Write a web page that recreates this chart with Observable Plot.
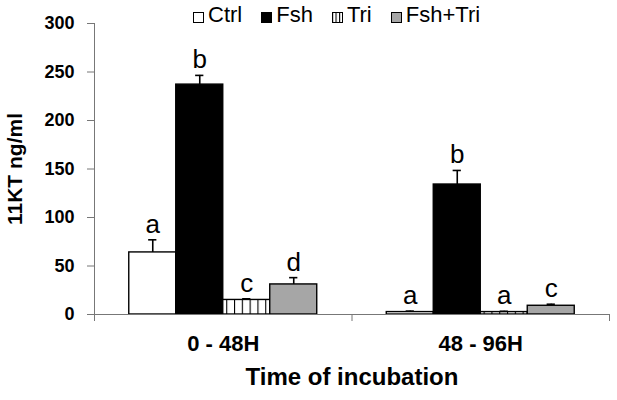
<!DOCTYPE html>
<html><head><meta charset="utf-8">
<script src="https://cdn.jsdelivr.net/npm/d3@7"></script>
<script src="https://cdn.jsdelivr.net/npm/@observablehq/plot@0.6"></script>
<style>
body{margin:0;background:#fff;font-family:"Liberation Sans",Arial,sans-serif;}
#chart{position:relative;width:617px;height:400px;}
#legend{position:absolute;left:193px;top:3px;display:flex;align-items:center;font-size:22px;color:#000;line-height:24px;}
.item{display:flex;align-items:center;margin-right:19px;}
.item svg{margin-right:4px;display:block;position:relative;top:2px;}
</style></head><body><div id="chart"><div id="legend"></div></div>
<script>
const groups = ["0 - 48H", "48 - 96H"];
const treatments = ["Ctrl", "Fsh", "Tri", "Fsh+Tri"];
const ctrlMean = [64, 2.5],   ctrlErr = [13, 1];
const fshMean = [237, 134],   fshErr = [9.5, 14.5];
const triMean = [15, 2.5],    triErr = [1.2, 0.8];
const fshTriMean = [31, 9],   fshTriErr = [7, 1.6];
const ctrlLetters = ["a", "a"], fshLetters = ["b", "b"], triLetters = ["c", "a"], fshTriLetters = ["d", "c"];
const yTicks = [0, 50, 100, 150, 200, 250, 300];
const yTitle = "11KT ng/ml";
const xTitle = "Time of incubation";

const meanBy = {"Ctrl": ctrlMean, "Fsh": fshMean, "Tri": triMean, "Fsh+Tri": fshTriMean};
const errBy = {"Ctrl": ctrlErr, "Fsh": fshErr, "Tri": triErr, "Fsh+Tri": fshTriErr};
const letterBy = {"Ctrl": ctrlLetters, "Fsh": fshLetters, "Tri": triLetters, "Fsh+Tri": fshTriLetters};
const fills = ["white", "black", "url(#triStripes)", "#a6a6a6"];

const rows = groups.flatMap((g, gi) => treatments.map((t, ti) => ({
  group: g, gi, treatment: t, ti,
  mean: meanBy[t][gi], err: errBy[t][gi], letter: letterBy[t][gi]
})));

const bw = 0.1825;       // bar width as a fraction of a category
const cap = 0.016;       // half error-bar cap width
const barLeft = d => d.gi + 0.5 + (d.ti - 2) * bw;
const barMid = d => barLeft(d) + bw / 2;
const errTop = d => d.mean + d.err;
const font = "Liberation Sans, Arial, sans-serif";

const plot = Plot.plot({
  width: 617, height: 400,
  marginTop: 23, marginBottom: 86, marginLeft: 94, marginRight: 8,
  style: {fontFamily: font, background: "white", color: "black"},
  x: {domain: [0, groups.length], axis: null},
  y: {domain: [0, 300], axis: null},
  color: {domain: treatments, range: fills},
  marks: [
    Plot.axisY({ticks: yTicks, tickSize: 7, tickPadding: 13, fontSize: 18, fontWeight: "bold", stroke: "#777", label: null}),
    Plot.axisX({ticks: d3.range(groups.length + 1), tickSize: 7, tickFormat: () => "", stroke: "#777", label: null}),
    Plot.axisX({ticks: groups.map((g, i) => i + 0.5), tickSize: 0, tickPadding: 21, tickFormat: v => groups[Math.floor(v)], fontSize: 22, fontWeight: "bold", label: null}),
    Plot.ruleX([0], {stroke: "#777"}),
    Plot.rect(rows, {x1: barLeft, x2: d => barLeft(d) + bw, y1: 0, y2: "mean", fill: "treatment", stroke: "black", strokeWidth: 1.4}),
    Plot.ruleY([0], {stroke: "#777"}),
    Plot.ruleX(rows, {x: barMid, y1: "mean", y2: errTop, stroke: "black", strokeWidth: 1.6}),
    Plot.ruleY(rows, {y: errTop, x1: d => barMid(d) - cap, x2: d => barMid(d) + cap, stroke: "black", strokeWidth: 1.6}),
    Plot.text(rows, {x: barMid, y: errTop, text: "letter", lineAnchor: "bottom", dy: -7, fontSize: 26}),
    Plot.text([yTitle], {frameAnchor: "left", textAnchor: "middle", dx: -79, rotate: -90, fontSize: 21, fontWeight: "bold"}),
    Plot.text([xTitle], {frameAnchor: "bottom", dy: 70.5, fontSize: 24, fontWeight: "bold"})
  ]
});

// stripe pattern for the "Tri" bars
const ns = "http://www.w3.org/2000/svg";
function makePattern(id, step) {
  const p = document.createElementNS(ns, "pattern");
  p.setAttribute("id", id);
  p.setAttribute("patternUnits", "userSpaceOnUse");
  p.setAttribute("width", step);
  p.setAttribute("height", 10);
  p.innerHTML = `<rect width="${step}" height="10" fill="white"/><line x1="0.5" x2="0.5" y1="0" y2="10" stroke="black" stroke-width="1.2"/>`;
  return p;
}
const defs = document.createElementNS(ns, "defs");
defs.appendChild(makePattern("triStripes", 7.8));
defs.appendChild(makePattern("triStripesSmall", 3.5));
plot.insertBefore(defs, plot.firstChild);
document.getElementById("chart").appendChild(plot);

// legend
const legend = document.getElementById("legend");
treatments.forEach((t, i) => {
  const item = document.createElement("div");
  item.className = "item";
  const f = fills[i] === "url(#triStripes)" ? "url(#triStripesSmall)" : fills[i];
  item.innerHTML = `<svg width="11" height="11"><rect x="0.5" y="0.5" width="10" height="10" fill="${f}" stroke="black" stroke-width="1"/></svg><span>${t}</span>`;
  legend.appendChild(item);
});
</script>
</body></html>
